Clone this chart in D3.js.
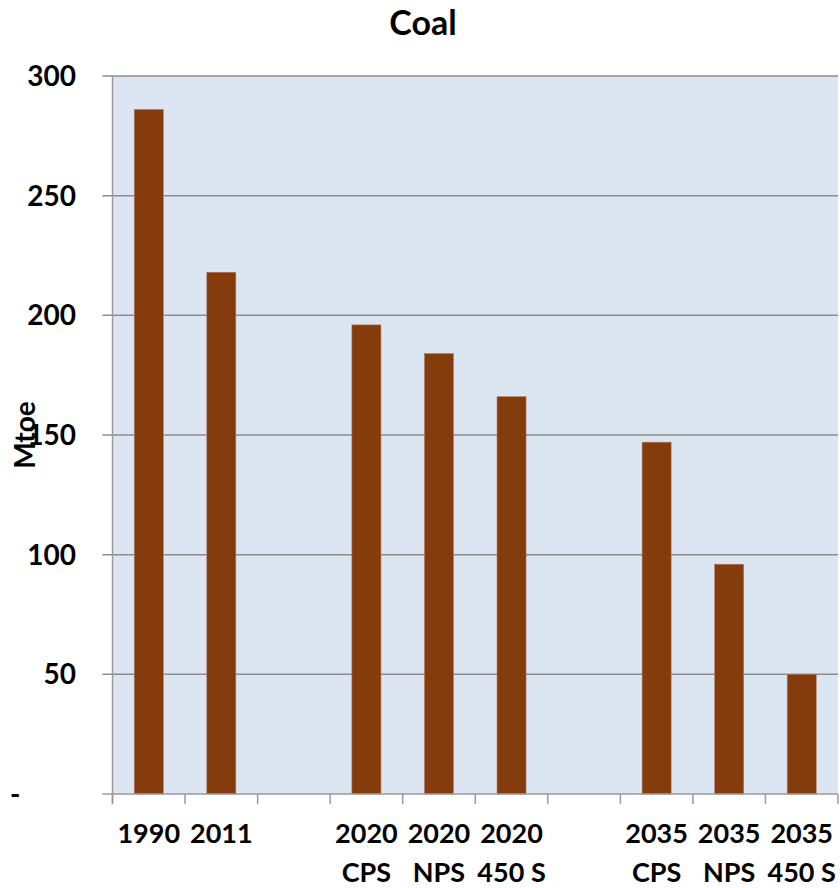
<!DOCTYPE html>
<html>
<head>
<meta charset="utf-8">
<script src="https://cdn.jsdelivr.net/npm/d3@7"></script>
<style>
  body { margin: 0; background: #fff; }
  text { font-family: Lato, "Open Sans", sans-serif; font-weight: bold; fill: #000; }
</style>
</head>
<body>
<svg id="chart" width="840" height="888"></svg>
<script>
// slots along the x axis, empty strings are the gaps between groups
let slots = ['s0', 's1', 's2', 's3', 's4', 's5', 's6', 's7', 's8', 's9'];
let years = ['1990', '2011', '', '2020', '2020', '2020', '', '2035', '2035', '2035'];
let scenarios = ['', '', '', 'CPS', 'NPS', '450 S', '', 'CPS', 'NPS', '450 S'];
let coal = [286, 218, null, 196, 184, 166, null, 147, 96, 50];
let yTicks = [0, 50, 100, 150, 200, 250, 300];

let svg = d3.select('#chart');
let plotLeft = 112.5, plotRight = 838, plotTop = 76, plotBottom = 794;

let x = d3.scaleBand().domain(slots).range([plotLeft, plotRight]).padding(0);
let y = d3.scaleLinear().domain([0, 300]).range([plotBottom, plotTop]);

// plot background
svg.append('rect')
    .attr('x', plotLeft).attr('y', plotTop)
    .attr('width', plotRight - plotLeft).attr('height', plotBottom - plotTop)
    .attr('fill', '#dce6f2');

// gridlines
svg.append('g')
    .selectAll('line')
    .data(yTicks.filter(d => d > 0))
    .join('line')
    .attr('x1', plotLeft - 10).attr('x2', plotRight)
    .attr('y1', d => y(d)).attr('y2', d => y(d))
    .attr('stroke', '#8c8c8c')
    .attr('stroke-width', 1.5);

// bars
let barW = x.bandwidth() * 0.4;
svg.append('g')
    .selectAll('rect')
    .data(slots.map((s, i) => ({ slot: s, value: coal[i] })).filter(d => d.value != null))
    .join('rect')
    .attr('x', d => x(d.slot) + x.bandwidth() / 2 - barW / 2)
    .attr('y', d => y(d.value))
    .attr('width', barW)
    .attr('height', d => y(0) - y(d.value))
    .attr('fill', '#843c0c')
    .attr('stroke', '#b07a5c')
    .attr('stroke-width', 0.6);

// axis lines
svg.append('line')
    .attr('x1', plotLeft).attr('x2', plotLeft)
    .attr('y1', plotTop).attr('y2', plotBottom + 10)
    .attr('stroke', '#9a9a9a').attr('stroke-width', 1.5);

svg.append('line')
    .attr('x1', plotLeft - 10).attr('x2', plotRight)
    .attr('y1', plotBottom).attr('y2', plotBottom)
    .attr('stroke', '#9a9a9a').attr('stroke-width', 1.5);

// y labels, zero shown as a dash
svg.append('g')
    .selectAll('text')
    .data(yTicks)
    .join('text')
    .attr('x', d => d == 0 ? 10 : 76)
    .attr('y', d => y(d))
    .attr('dy', '0.36em')
    .attr('text-anchor', d => d == 0 ? 'start' : 'end')
    .attr('font-size', '28px')
    .text(d => d == 0 ? '-' : d);

// x ticks on slot boundaries
let bounds = slots.map(s => x(s)).concat([plotRight]);
svg.append('g')
    .selectAll('line')
    .data(bounds)
    .join('line')
    .attr('x1', d => d).attr('x2', d => d)
    .attr('y1', plotBottom).attr('y2', plotBottom + 10)
    .attr('stroke', '#9a9a9a').attr('stroke-width', 1.5);

// x labels
let labels = svg.append('g')
    .selectAll('text')
    .data(slots.map((s, i) => ({ slot: s, year: years[i], scen: scenarios[i] })))
    .join('text')
    .attr('text-anchor', 'middle')
    .attr('font-size', '27px');

labels.append('tspan')
    .attr('x', d => x(d.slot) + x.bandwidth() / 2)
    .attr('y', 843)
    .text(d => d.year);

labels.append('tspan')
    .attr('x', d => x(d.slot) + x.bandwidth() / 2)
    .attr('y', 882)
    .text(d => d.scen);

// title
svg.append('text')
    .attr('x', 423).attr('y', 35)
    .attr('text-anchor', 'middle')
    .attr('font-size', '34px')
    .text('Coal');

// y axis title
svg.append('text')
    .attr('transform', 'translate(35,435) rotate(-90)')
    .attr('text-anchor', 'middle')
    .attr('font-size', '28px')
    .text('Mtoe');
</script>
</body>
</html>
